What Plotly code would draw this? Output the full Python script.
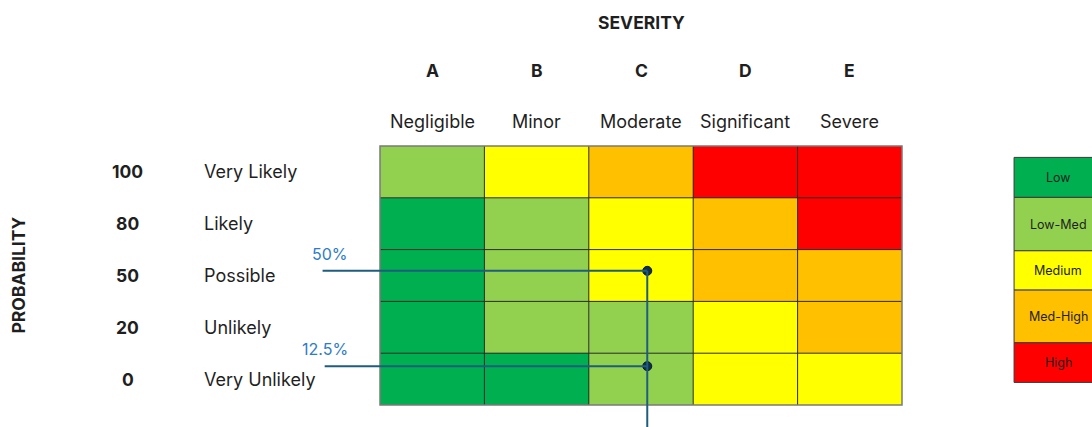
import plotly.graph_objects as go

# Risk matrix content
severity_letters = ["A", "B", "C", "D", "E"]
severity_names = ["Negligible", "Minor", "Moderate", "Significant", "Severe"]
probability_values = ["0", "20", "50", "80", "100"]            # bottom -> top
probability_names = ["Very Unlikely", "Unlikely", "Possible", "Likely", "Very Likely"]

level_names = ["Low", "Low-Med", "Medium", "Med-High", "High"]
level_colors = ["#00b050", "#92d050", "#ffff00", "#ffc000", "#ff0000"]

# Risk level per cell (rows bottom -> top, columns A -> E)
risk_levels = [
    [0, 0, 1, 2, 2],   # Very Unlikely
    [0, 1, 1, 2, 3],   # Unlikely
    [0, 1, 2, 3, 3],   # Possible
    [0, 1, 2, 3, 4],   # Likely
    [1, 2, 3, 4, 4],   # Very Likely
]

# Assessed risk points (severity position, probability position)
point_labels = ["50%", "12.5%"]
point_severity = [2.06, 2.06]
point_probability = [2.09, 0.25]
leader_start = [-1.05, -1.03]

# Legend box edges, top -> bottom (in row units), one box per level
legend_edges = [4.280, 3.508, 2.477, 1.718, 0.701, -0.064]

FONT = "Inter, 'Open Sans', Arial, sans-serif"
TXT = "#1f1f1f"
W, H = 1092, 427
BOLD = 17.5
REG = 18

ncol, nrow = len(severity_letters), len(probability_names)
col_px, row_px = 104.4, 51.8
left_px, bottom_px = 380, 405

x_range = [-0.5 - left_px / col_px, -0.5 + (W - left_px) / col_px]
y_range = [-0.5 - (H - bottom_px) / row_px, -0.5 + bottom_px / row_px]

fig = go.Figure()

colorscale = [[i / (len(level_colors) - 1), c] for i, c in enumerate(level_colors)]
fig.add_trace(go.Heatmap(
    z=risk_levels, x=list(range(ncol)), y=list(range(nrow)),
    zmin=0, zmax=len(level_colors) - 1, colorscale=colorscale,
    showscale=False, hoverinfo="skip",
))

# Legend boxes
fig.add_trace(go.Bar(
    x=[5.995] * len(level_names),
    base=legend_edges[1:],
    y=[legend_edges[i] - legend_edges[i + 1] for i in range(len(level_names))],
    width=0.843,
    marker=dict(color=level_colors, line=dict(color="#3a3a3a", width=1)),
    hoverinfo="skip", showlegend=False,
))

shapes = []
for i in range(1, ncol):
    shapes.append(dict(type="line", xref="x", yref="y", x0=i - 0.5, x1=i - 0.5,
                       y0=-0.5, y1=nrow - 0.5, line=dict(color="#2b2b2b", width=1)))
for j in range(1, nrow):
    shapes.append(dict(type="line", xref="x", yref="y", x0=-0.5, x1=ncol - 0.5,
                       y0=j - 0.5, y1=j - 0.5, line=dict(color="#2b2b2b", width=1)))
shapes.append(dict(type="rect", xref="x", yref="y", x0=-0.5, x1=ncol - 0.5,
                   y0=-0.5, y1=nrow - 0.5, line=dict(color="#7a7a7a", width=1.5)))

# Leader lines for assessed points
LINE_C = "#1f5d7e"
for xs, ys, x0 in zip(point_severity, point_probability, leader_start):
    shapes.append(dict(type="line", xref="x", yref="y", x0=x0, x1=xs, y0=ys, y1=ys,
                       line=dict(color=LINE_C, width=2)))
shapes.append(dict(type="line", xref="x", yref="y", x0=point_severity[0], x1=point_severity[0],
                   y0=max(point_probability), y1=y_range[0] - 1,
                   line=dict(color=LINE_C, width=2)))

fig.add_trace(go.Scatter(
    x=point_severity, y=point_probability, mode="markers",
    marker=dict(size=9, color="#0f2e48", line=dict(color="#081a2a", width=1)),
    hoverinfo="skip", showlegend=False,
))

ann = []
ann.append(dict(x=(ncol - 1) / 2, y=6.89, text="<b>SEVERITY</b>", showarrow=False,
                font=dict(size=BOLD, color=TXT, family=FONT)))
for i, (l, n) in enumerate(zip(severity_letters, severity_names)):
    ann.append(dict(x=i, y=5.965, text=f"<b>{l}</b>", showarrow=False,
                    font=dict(size=BOLD, color=TXT, family=FONT)))
    ann.append(dict(x=i, y=4.98, text=n, showarrow=False,
                    font=dict(size=REG, color=TXT, family=FONT)))
for j, (v, n) in enumerate(zip(probability_values, probability_names)):
    ann.append(dict(x=-2.914, y=j, text=f"<b>{v}</b>", showarrow=False,
                    font=dict(size=BOLD, color=TXT, family=FONT)))
    ann.append(dict(x=-2.205, y=j, text=n, showarrow=False, xanchor="left",
                    font=dict(size=REG, color=TXT, family=FONT)))
ann.append(dict(x=-3.967, y=(nrow - 1) / 2, text="<b>PROBABILITY</b>", showarrow=False,
                textangle=-90, font=dict(size=BOLD, color=TXT, family=FONT)))
for lab, ys in zip(point_labels, point_probability):
    ann.append(dict(x=-0.787, y=ys, text=lab, showarrow=False, xanchor="right",
                    yanchor="bottom", yshift=5,
                    font=dict(size=16, color="#2d7cc8", family=FONT)))
for k, name in enumerate(level_names):
    ann.append(dict(x=5.995, y=(legend_edges[k] + legend_edges[k + 1]) / 2, text=name,
                    showarrow=False, font=dict(size=12.5, color=TXT, family=FONT)))

fig.update_layout(
    width=W, height=H, margin=dict(l=0, r=0, t=0, b=0),
    paper_bgcolor="white", plot_bgcolor="white",
    shapes=shapes, annotations=ann, showlegend=False,
    xaxis=dict(range=x_range, visible=False, fixedrange=True),
    yaxis=dict(range=y_range, visible=False, fixedrange=True),
)

fig.write_html("out.html", config={"displayModeBar": False})
